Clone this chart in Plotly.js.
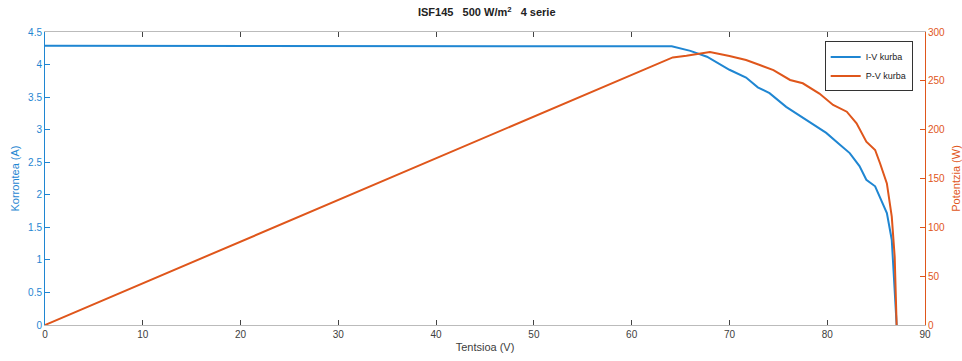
<!DOCTYPE html>
<html>
<head>
<meta charset="utf-8">
<script src="https://cdn.plot.ly/plotly-3.0.1.min.js"></script>
<style>html,body{margin:0;padding:0;background:#fff;}#chart{width:962px;height:361px;}</style>
</head>
<body>
<div id="chart"></div>
<script>
// I-V curve: voltage (V) and current (A)
const ivVoltage = [0, 20, 40, 60, 64.1, 66.0, 67.7, 70.0, 71.7, 72.9, 74.1, 75.8, 77.9, 79.9, 81.3, 82.3, 83.3, 84.0, 84.9, 85.4, 86.1, 86.6, 86.8, 87.0, 87.1];
const ivCurrent = [4.29, 4.29, 4.29, 4.28, 4.28, 4.21, 4.12, 3.92, 3.80, 3.65, 3.56, 3.35, 3.15, 2.95, 2.77, 2.64, 2.44, 2.23, 2.13, 1.97, 1.72, 1.31, 0.85, 0.40, 0];
// P-V curve: voltage (V) and power (W)
const pvVoltage = [0, 20, 40, 60.8, 64.2, 65.6, 68.0, 70.0, 71.7, 73.1, 74.5, 76.2, 77.5, 79.2, 80.6, 82.0, 83.0, 84.0, 84.9, 85.4, 86.1, 86.6, 86.9, 87.1];
const pvPower = [0, 85.6, 171.2, 259.4, 274.0, 275.6, 279.5, 275.4, 271.3, 266.2, 261.0, 250.9, 247.5, 237.0, 225.3, 218.4, 206.5, 187.7, 179.2, 165.6, 145.0, 110.9, 69.9, 0];

const xTicks = [0, 10, 20, 30, 40, 50, 60, 70, 80, 90];
const yLeftTicks = [0, 0.5, 1, 1.5, 2, 2.5, 3, 3.5, 4, 4.5];
const yRightTicks = [0, 50, 100, 150, 200, 250, 300];

const blue = '#1f86d2';
const orange = '#df561b';
const font = 'Liberation Sans, Arial, Helvetica, sans-serif';

const traces = [
  {x: ivVoltage, y: ivCurrent, type: 'scatter', mode: 'lines', name: 'I-V kurba',
   line: {color: blue, width: 2}, yaxis: 'y'},
  {x: pvVoltage, y: pvPower, type: 'scatter', mode: 'lines', name: 'P-V kurba',
   line: {color: orange, width: 2}, yaxis: 'y2'}
];

const layout = {
  width: 962, height: 361,
  margin: {l: 45, r: 37, t: 32, b: 36},
  paper_bgcolor: '#fff', plot_bgcolor: '#fff',
  font: {family: font, size: 10, color: '#404040'},
  title: {text: '<b>ISF145   500 W/m<sup>2</sup>   4 serie</b>', x: 0.506, xanchor: 'center', y: 0.965, yanchor: 'middle',
          font: {family: font, size: 11, color: '#222'}},
  showlegend: true,
  legend: {x: 0.886, xanchor: 'left', y: 0.968, yanchor: 'top', bgcolor: '#fff',
           bordercolor: '#333', borderwidth: 1, font: {family: font, size: 9, color: '#222'},
           tracegroupgap: 0, itemwidth: 30},
  xaxis: {range: [0, 90], tickvals: xTicks, ticktext: xTicks.map(String), ticks: 'inside', ticklen: 5,
          tickcolor: '#444', showline: true, linecolor: '#bbbbbb', linewidth: 1, mirror: 'ticks',
          showgrid: false, zeroline: false, tickfont: {size: 10, color: '#404040'},
          title: {text: 'Tentsioa (V)', standoff: 4, font: {size: 11, color: '#404040'}}},
  yaxis: {range: [0, 4.5], tickvals: yLeftTicks, ticktext: yLeftTicks.map(String), ticks: 'inside', ticklen: 5,
          tickcolor: blue, showline: true, linecolor: blue, linewidth: 1, showgrid: false, zeroline: false,
          tickfont: {size: 10, color: blue},
          title: {text: 'Korrontea (A)', standoff: 6, font: {size: 11, color: blue}}},
  yaxis2: {range: [0, 300], overlaying: 'y', side: 'right', tickvals: yRightTicks, ticktext: yRightTicks.map(String),
           ticks: 'inside', ticklen: 5, tickcolor: orange, showline: true, linecolor: orange, linewidth: 1,
           showgrid: false, zeroline: false, tickfont: {size: 10, color: orange},
           title: {text: 'Potentzia (W)', standoff: 10, font: {size: 11, color: orange}}}
};

Plotly.newPlot('chart', traces, layout, {displayModeBar: false, staticPlot: true});
</script>
</body>
</html>
